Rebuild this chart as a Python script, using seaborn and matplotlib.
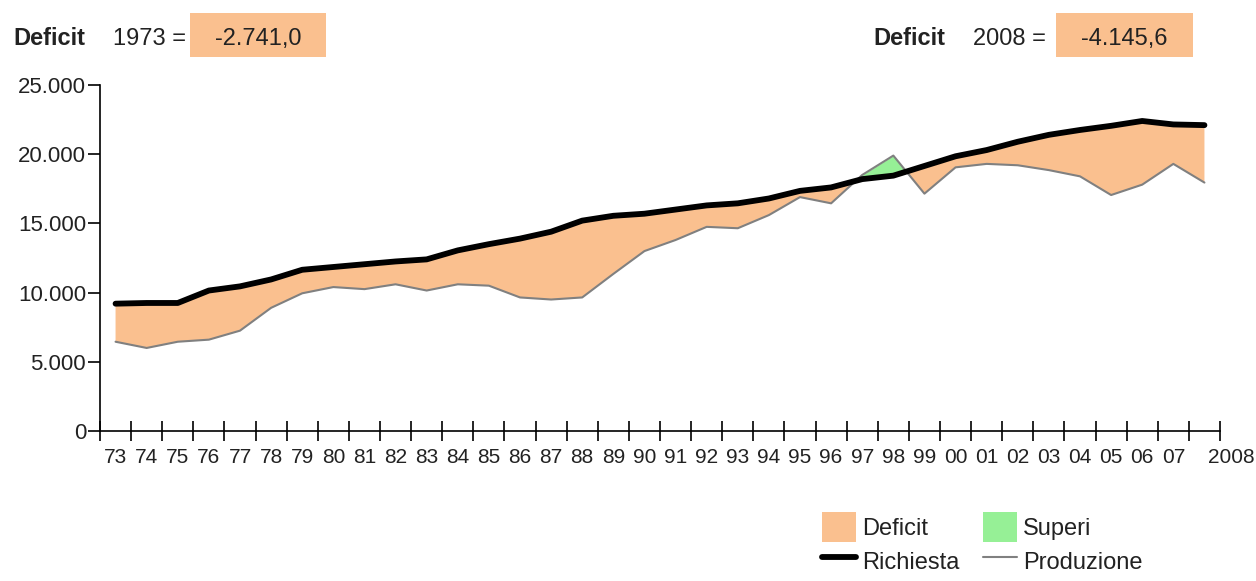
import numpy as np
import pandas as pd
import matplotlib
matplotlib.use("Agg")
import matplotlib.pyplot as plt
import seaborn as sns
from matplotlib import font_manager
from matplotlib.patches import Rectangle, Patch
from matplotlib.lines import Line2D
from matplotlib.ticker import FuncFormatter, FixedLocator
import matplotlib.transforms as mtransforms

# ---------------- data ----------------
year_labels = ["73", "74", "75", "76", "77", "78", "79", "80", "81", "82",
               "83", "84", "85", "86", "87", "88", "89", "90", "91", "92",
               "93", "94", "95", "96", "97", "98", "99", "00", "01", "02",
               "03", "04", "05", "06", "07", "2008"]
richiesta = [9200, 9250, 9250, 10150, 10450, 10950, 11650, 11850, 12050, 12250,
             12400, 13050, 13500, 13900, 14400, 15200, 15550, 15700, 16000, 16300,
             16450, 16800, 17350, 17600, 18200, 18450, 19150, 19850, 20300, 20900,
             21400, 21750, 22050, 22400, 22150, 22100]
produzione = [6450, 6000, 6450, 6600, 7250, 8900, 9950, 10400, 10250, 10600,
              10150, 10600, 10500, 9650, 9500, 9650, 11350, 13000, 13800, 14750,
              14650, 15600, 16900, 16450, 18500, 19900, 17150, 19050, 19300, 19200,
              18850, 18400, 17050, 17800, 19300, 17950]
header_left = ("Deficit", "1973 =", "-2.741,0")
header_right = ("Deficit", "2008 =", "-4.145,6")
legend_labels = ["Deficit", "Richiesta", "Superi", "Produzione"]
y_ticks = [0, 5000, 10000, 15000, 20000, 25000]

ORANGE = "#FAC08F"
GREEN = "#96F096"
GREY = "#808080"
TXT = "#222222"

sns.set_theme(style="white")
plt.rcParams["font.family"] = ["Liberation Sans", "DejaVu Sans"]


def has_font(name):
    try:
        font_manager.findfont(font_manager.FontProperties(family=name),
                              fallback_to_default=False)
        return True
    except Exception:
        return False


NARROW = "Liberation Sans Narrow" if has_font("Liberation Sans Narrow") else None

df = pd.DataFrame({"pos": np.arange(len(year_labels)),
                   "Richiesta": richiesta,
                   "Produzione": produzione})

fig = plt.figure(figsize=(12.56, 5.81), dpi=100)
ax = fig.add_axes([100 / 1256, 1 - 431 / 581, 1120 / 1256, 346 / 581])

x = df["pos"].to_numpy()
r = df["Richiesta"].to_numpy()
p = df["Produzione"].to_numpy()
ax.fill_between(x, p, r, where=p <= r, interpolate=True, color=ORANGE, lw=0, zorder=1)
ax.fill_between(x, p, r, where=p >= r, interpolate=True, color=GREEN, lw=0, zorder=1)

sns.lineplot(data=df, x="pos", y="Produzione", ax=ax, color=GREY, lw=1.5, zorder=3)
sns.lineplot(data=df, x="pos", y="Richiesta", ax=ax, color="black", lw=4.2, zorder=4)

ax.set_xlim(-0.5, len(year_labels) - 0.5)
ax.set_ylim(0, 25000)
ax.set_xlabel("")
ax.set_ylabel("")

for s in ["top", "right"]:
    ax.spines[s].set_visible(False)
for s in ["left", "bottom"]:
    ax.spines[s].set_color("black")
    ax.spines[s].set_linewidth(1.2)

# y axis
ax.set_yticks(y_ticks)
ax.yaxis.set_major_formatter(FuncFormatter(lambda v, _: f"{int(v):,}".replace(",", ".")))
ax.tick_params(axis="y", direction="out", length=9, width=1.2, color="black",
               labelsize=16, labelcolor=TXT, pad=1, left=True)

# x axis: tick marks at bin boundaries, labels at bin centres
ax.xaxis.set_major_locator(FixedLocator(np.arange(-0.5, len(year_labels), 1.0)))
ax.xaxis.set_major_formatter(FuncFormatter(lambda v, _: ""))
ax.xaxis.set_minor_locator(FixedLocator(x))
ax.xaxis.set_minor_formatter(FuncFormatter(lambda v, i: year_labels[int(round(v))]))
ax.tick_params(axis="x", which="major", direction="inout", length=14, width=1.2,
               color="black", bottom=True)
ax.tick_params(axis="x", which="minor", length=0, pad=12, labelcolor=TXT,
               labelsize=15.5 if NARROW else 15, bottom=True)
minor_labels = ax.xaxis.get_minorticklabels()
for lab in minor_labels:
    if NARROW:
        lab.set_family([NARROW, "Liberation Sans"])
ax.figure.canvas.draw()
last = ax.xaxis.get_minor_ticks()[-1].label1
offset = mtransforms.ScaledTranslation(27 / 100, 0, fig.dpi_scale_trans)
last.set_transform(last.get_transform() + offset)

# header texts
def header(x_def, x_year, box_x0, box_w, texts):
    base_y = 1 - 45 / 581
    fig.text(x_def / 1256, base_y, texts[0], fontsize=17, fontweight="bold",
             color=TXT, va="baseline", ha="left")
    fig.text(x_year / 1256, base_y, texts[1], fontsize=17, color=TXT,
             va="baseline", ha="left")
    fig.patches.append(Rectangle((box_x0 / 1256, 1 - 57 / 581), box_w / 1256, 44 / 581,
                                 transform=fig.transFigure, color=ORANGE, lw=0))
    fig.text((box_x0 + box_w / 2) / 1256, base_y, texts[2], fontsize=17, color=TXT,
             va="baseline", ha="center")

header(13, 113, 190, 136, header_left)
header(873, 973, 1056, 137, header_right)

# legend
handles = [Patch(color=ORANGE, lw=0),
           Line2D([], [], color="black", lw=4.2),
           Patch(color=GREEN, lw=0),
           Line2D([], [], color=GREY, lw=1.5)]
fig.legend(handles, legend_labels, ncol=2, loc="upper left",
           bbox_to_anchor=(822 / 1256, 1 - 512 / 581), frameon=False,
           fontsize=17, borderpad=0, borderaxespad=0, handlelength=1.45,
           handleheight=1.6, handletextpad=0.25, columnspacing=1.0,
           labelspacing=0.15, labelcolor=TXT)

fig.savefig("out.png", dpi=100, facecolor="white")
